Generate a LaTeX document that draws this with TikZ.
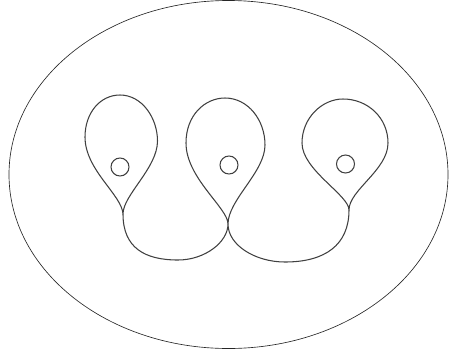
\documentclass[tikz,border=0pt]{standalone}
\usepackage{tikz}
\usetikzlibrary{positioning}

\begin{document}
\begin{tikzpicture}[
  x=0.03cm, y=-0.03cm,
  rim/.style={draw=black!85, line width=0.55pt},
  lobe/.style={draw=black!75, line width=0.9pt},
  hole/.style={circle, draw=black!75, line width=0.9pt, minimum size=5.4mm, inner sep=0pt}
]
\useasboundingbox (0,0) rectangle (449,354);

\draw[rim] (228.5,174.5) ellipse [x radius=219.5, y radius=174];

% pinch points
\coordinate (pl) at (123,214);
\coordinate (pm) at (228,224);
\coordinate (pr) at (349,210);

% three lobes
\draw[lobe] (pl) .. controls (122,195) and (85,170) .. (85,137)
  .. controls (85,113) and (100,95) .. (120,95)
  .. controls (142,95) and (157.5,118) .. (157.5,141)
  .. controls (157.5,168) and (123,195) .. (pl);
\draw[lobe] (pm) .. controls (228,208) and (186,178) .. (186,143)
  .. controls (186,115) and (205,98) .. (225,98)
  .. controls (248,98) and (265,120) .. (265,145)
  .. controls (265,172) and (228,200) .. (pm);
\draw[lobe] (pr) .. controls (349,195) and (302,170) .. (302,143)
  .. controls (302,118) and (322,99) .. (343,99)
  .. controls (368,99) and (388,118) .. (388,143)
  .. controls (388,170) and (349,190) .. (pr);

% bottom arcs
\draw[lobe] (pl) .. controls (123,248) and (145,260) .. (178,260)
  .. controls (205,260) and (228,242) .. (pm)
  .. controls (228,245) and (255,262) .. (285,262)
  .. controls (325,262) and (349,245) .. (pr);

\node[hole] (hl) at (120,167) {};
\node[hole] (hm) at (229,165) {};
\node[hole] (hr) at (345.5,164) {};
\end{tikzpicture}
\end{document}
